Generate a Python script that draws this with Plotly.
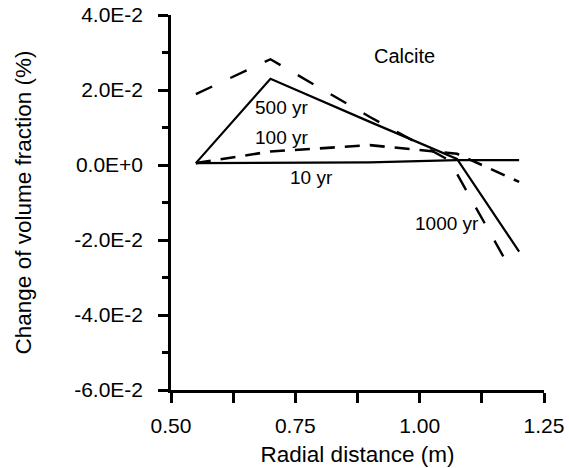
import plotly.graph_objects as go

# Data
x_10yr = [0.55, 0.70, 0.90, 1.075, 1.20]
y_10yr = [0.0005, 0.0006, 0.0007, 0.0013, 0.0013]

x_100yr = [0.55, 0.70, 0.90, 1.075, 1.20]
y_100yr = [0.0005, 0.0036, 0.0053, 0.0030, -0.0045]

x_500yr = [0.55, 0.70, 0.90, 1.075, 1.20]
y_500yr = [0.0005, 0.0230, 0.0115, 0.0016, -0.0231]

x_1000yr = [0.55, 0.70, 0.90, 1.06, 1.18]
y_1000yr = [0.0189, 0.0282, 0.0128, 0.0012, -0.0272]

y_tickvals = [0.04, 0.02, 0.0, -0.02, -0.04, -0.06]
y_ticktext = ["4.0E-2", "2.0E-2", "0.0E+0", "-2.0E-2", "-4.0E-2", "-6.0E-2"]
x_tickvals = [0.50, 0.75, 1.00, 1.25]

FONT = "Liberation Sans, Arial, sans-serif"

fig = go.Figure()
fig.add_trace(go.Scatter(x=x_10yr, y=y_10yr, mode="lines",
                         line=dict(color="black", width=2.2), name="10 yr"))
fig.add_trace(go.Scatter(x=x_100yr, y=y_100yr, mode="lines",
                         line=dict(color="black", width=2.6, dash="15px,10px"), name="100 yr"))
fig.add_trace(go.Scatter(x=x_500yr, y=y_500yr, mode="lines",
                         line=dict(color="black", width=2.2), name="500 yr"))
fig.add_trace(go.Scatter(x=x_1000yr, y=y_1000yr, mode="lines",
                         line=dict(color="black", width=2.4, dash="18px,20px"), name="1000 yr"))

labels = [
    ("Calcite", 0.9700, 0.0290, 20),
    ("500 yr", 0.7220, 0.0154, 19),
    ("100 yr", 0.7220, 0.0074, 19),
    ("10 yr", 0.7830, -0.0033, 19),
    ("1000 yr", 1.0550, -0.0155, 19),
]
for txt, ax_, ay_, fs in labels:
    fig.add_annotation(x=ax_, y=ay_, text=txt, showarrow=False,
                       xanchor="center", yanchor="middle",
                       font=dict(family=FONT, size=fs, color="black"))

fig.update_layout(
    width=569, height=468,
    margin=dict(l=171, r=25, t=15, b=78),
    paper_bgcolor="white", plot_bgcolor="white",
    showlegend=False,
    font=dict(family=FONT, color="black"),
)
fig.update_xaxes(
    range=[0.5, 1.25], tickvals=x_tickvals, tickformat=".2f",
    automargin=False,
    showgrid=False, zeroline=False,
    showline=True, linecolor="black", linewidth=2.5,
    ticks="outside", ticklen=10, tickwidth=2.5, tickcolor="black",
    minor=dict(dtick=0.125, tick0=0.5, ticks="outside", ticklen=10, tickwidth=2.5, tickcolor="black", showgrid=False),
    tickfont=dict(family=FONT, size=21, color="black"),
    ticklabelstandoff=5,
    title=dict(text="Radial distance (m)", font=dict(family=FONT, size=22.5, color="black"), standoff=11),
)
fig.update_yaxes(
    range=[-0.06, 0.04], tickvals=y_tickvals, ticktext=y_ticktext,
    automargin=False,
    showgrid=False, zeroline=False,
    showline=True, linecolor="black", linewidth=2.5,
    ticks="outside", ticklen=10, tickwidth=2.5, tickcolor="black",
    minor=dict(dtick=0.01, tick0=0, ticks="outside", ticklen=6, tickwidth=2.5, tickcolor="black", showgrid=False),
    tickfont=dict(family=FONT, size=21, color="black"),
    ticklabelstandoff=11,
    title=dict(text="Change of volume fraction (%)", font=dict(family=FONT, size=22.5, color="black"), standoff=37),
)

fig.write_html("out.html")
